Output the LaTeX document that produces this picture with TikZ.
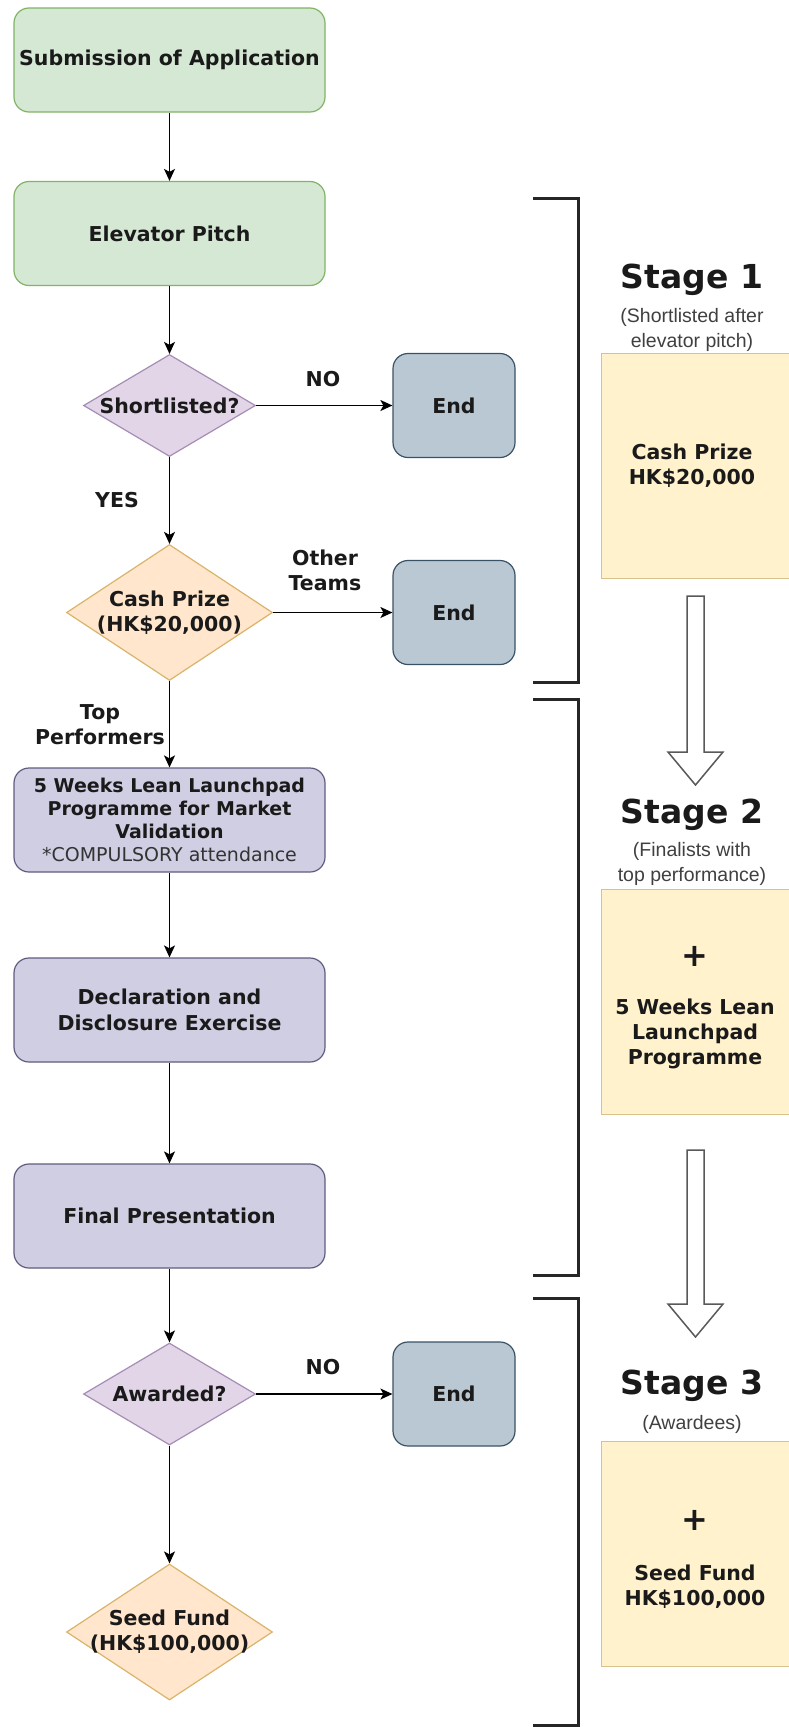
\documentclass[tikz,border=0pt]{standalone}
\usepackage{fontspec}
\setmainfont{DejaVu Sans}
\newfontfamily\arialf{Liberation Sans}
\usetikzlibrary{shapes.geometric,arrows.meta}
\definecolor{gfill}{HTML}{D5E8D4}\definecolor{gline}{HTML}{82B366}
\definecolor{pfill}{HTML}{E1D5E7}\definecolor{pline}{HTML}{A58DB5}
\definecolor{ofill}{HTML}{FFE6CC}\definecolor{oline}{HTML}{D9B46A}
\definecolor{efill}{HTML}{BAC8D3}\definecolor{eline}{HTML}{3A5266}
\definecolor{lfill}{HTML}{D0CEE2}\definecolor{lline}{HTML}{605C80}
\definecolor{yfill}{HTML}{FFF2CC}\definecolor{yline}{HTML}{D6C28A}
\definecolor{txt}{HTML}{1A1A1A}
\definecolor{subtxt}{HTML}{404040}
\definecolor{brk}{HTML}{262626}
\tikzset{
  box/.style={draw, rounded corners=15pt, minimum width=311pt, minimum height=104pt,
    inner sep=0pt, align=center, text=txt, line width=1.2pt,
    font=\bfseries\fontsize{20.5}{26}\selectfont},
  greenbox/.style={box, fill=gfill, draw=gline},
  lavbox/.style={box, fill=lfill, draw=lline},
  endbox/.style={box, fill=efill, draw=eline, minimum width=122pt},
  dia/.style={diamond, draw, inner sep=0pt, line width=1.2pt},
  pdia/.style={dia, fill=pfill, draw=pline, minimum width=172pt, minimum height=102pt},
  odia/.style={dia, fill=ofill, draw=oline, minimum width=206pt, minimum height=136pt},
  lbl/.style={inner sep=0pt, align=center, text=txt,
    font=\bfseries\fontsize{20.5}{25}\selectfont},
  stagelbl/.style={inner sep=0pt, align=center, text=txt,
    font=\bfseries\fontsize{33}{36}\selectfont},
  sublbl/.style={inner sep=0pt, align=center, text=subtxt,
    font=\arialf\fontsize{19.5}{25}\selectfont},
  ybox/.style={draw=yline, fill=yfill, line width=1pt, minimum width=200pt,
    minimum height=225pt, inner sep=0pt},
  plus/.style={inner sep=0pt, text=txt, font=\bfseries\fontsize{32}{32}\selectfont},
  flow/.style={-{Stealth[length=12pt,width=11pt,inset=3pt]}, line width=1.3pt, black},
  bracket/.style={draw=brk, line width=3pt},
  hollow/.style={draw=black!65, line width=1.5pt, fill=white, line join=miter}
}
\begin{document}
\begin{tikzpicture}[x=1pt,y=-1pt]
\useasboundingbox (0,0) rectangle (788,1727);
\fill[white] (0,0) rectangle (788,1727);

% left flow
\node[greenbox] (sub) at (169.5,60) {Submission of Application};
\node[greenbox] (elev) at (169.5,233.5) {Elevator Pitch};
\node[pdia] (sl) at (169.5,405.5) {};
\node[lbl] (slt) at (sl) {Shortlisted?};
\node[endbox] (e1) at (454,405.5) {End};
\node[odia] (cash) at (169.5,612.5) {};
\node[lbl] (casht) at (cash) {Cash Prize\\(HK\$20,000)};
\node[endbox] (e2) at (454,612.5) {End};
\node[lavbox, font=\bfseries\fontsize{19}{23.2}\selectfont] (lean) at (169.5,820)
  {5 Weeks Lean Launchpad\\Programme for Market\\Validation\\{\mdseries\color{black!80} *COMPULSORY attendance}};
\node[lavbox] (decl) at (169.5,1010) {Declaration and\\Disclosure Exercise};
\node[lavbox] (fin) at (169.5,1216) {Final Presentation};
\node[pdia] (aw) at (169.5,1394) {};
\node[lbl] (awt) at (aw) {Awarded?};
\node[endbox] (e3) at (454,1394) {End};
\node[odia] (seed) at (169.5,1632) {};
\node[lbl] (seedt) at (seed) {Seed Fund\\(HK\$100,000)};

% connectors
\draw[flow] (sub) -- (elev);
\draw[flow] (elev) -- (sl.north);
\draw[flow] (sl.east) -- (e1.west);
\node[lbl] (no1) at (323,379) {NO};
\draw[flow] (sl.south) -- (cash.north);
\node[lbl] (yes) at (117,500) {YES};
\draw[flow] (cash.east) -- (e2.west);
\node[lbl] (other) at (325,570) {Other\\Teams};
\draw[flow] (cash.south) -- (lean.north);
\node[lbl] (topp) at (100,724.5) {Top\\Performers};
\draw[flow] (lean) -- (decl);
\draw[flow] (decl) -- (fin);
\draw[flow] (fin.south) -- (aw.north);
\draw[flow] (aw.east) -- (e3.west);
\node[lbl] (no3) at (323,1367) {NO};
\draw[flow] (aw.south) -- (seed.north);

% brackets
\draw[bracket] (533,198) -- (578,198) -- (578,682) -- (533,682);
\draw[bracket] (533,699) -- (578,699) -- (578,1275) -- (533,1275);
\draw[bracket] (533,1298) -- (578,1298) -- (578,1725) -- (533,1725);

% stage 1
\node[stagelbl] (s1) at (692,280) {Stage 1};
\node[sublbl] (s1s) at (692,329.5) {(Shortlisted after\\elevator pitch)};
\node[ybox] (y1) at (701,465.5) {};
\node[lbl] (y1t) at (692,465.5) {Cash Prize\\HK\$20,000};
\draw[hollow] (687,596) -- (704,596) -- (704,752) -- (723,752) -- (695.5,785)
  -- (668,752) -- (687,752) -- cycle;

% stage 2
\node[stagelbl] (s2) at (692,815) {Stage 2};
\node[sublbl] (s2s) at (692,863.5) {(Finalists with\\top performance)};
\node[ybox] (y2) at (701,1001.5) {};
\node[plus] (y2p) at (695,956) {+};
\node[lbl] (y2t) at (695,1034) {5 Weeks Lean\\Launchpad\\Programme};
\draw[hollow] (687,1150) -- (704,1150) -- (704,1304) -- (723,1304) -- (695.5,1337)
  -- (668,1304) -- (687,1304) -- cycle;

% stage 3
\node[stagelbl] (s3) at (692,1386) {Stage 3};
\node[sublbl] (s3s) at (692,1424) {(Awardees)};
\node[ybox] (y3) at (701,1554) {};
\node[plus] (y3p) at (695,1520) {+};
\node[lbl] (y3t) at (695,1586.5) {Seed Fund\\HK\$100,000};
\end{tikzpicture}
\end{document}
